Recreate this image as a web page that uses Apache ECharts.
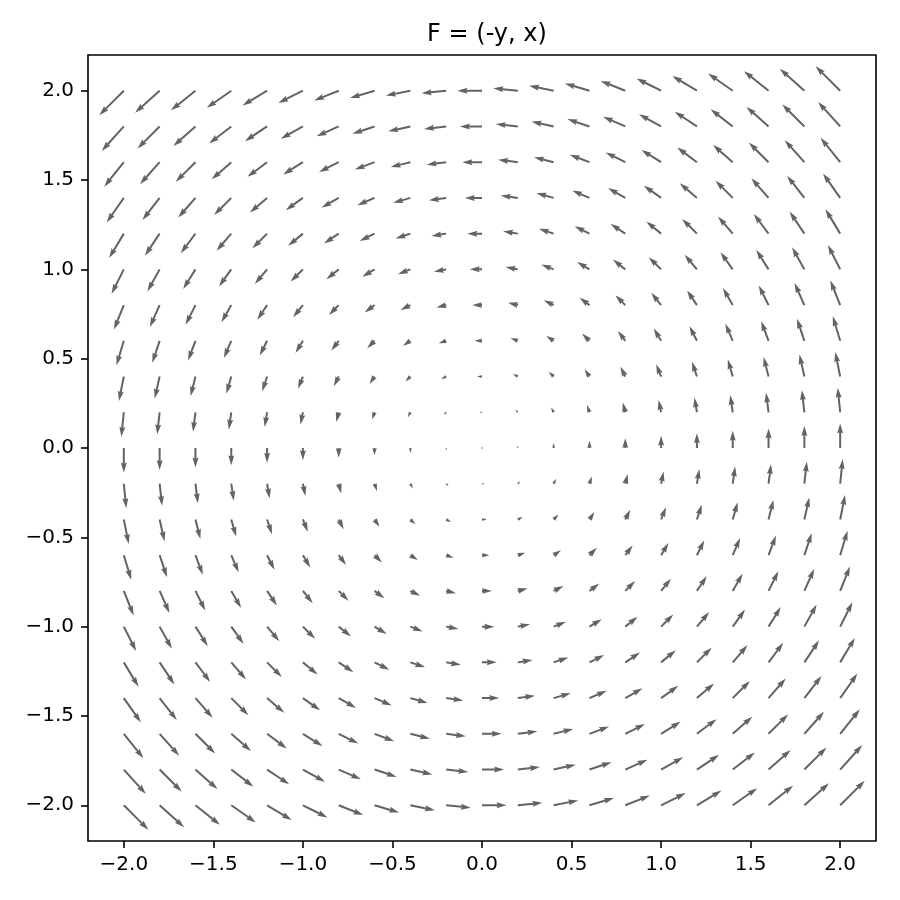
<!DOCTYPE html>
<html>
<head>
<meta charset="utf-8">
<script src="https://cdn.jsdelivr.net/npm/echarts@6/dist/echarts.min.js"></script>
<style>html,body{margin:0;padding:0;background:#fff}#c{width:900px;height:900px}</style>
</head>
<body>
<div id="c"></div>
<script>
var title = 'F = (-y, x)';
var xGrid = [-2.0,-1.8,-1.6,-1.4,-1.2,-1.0,-0.8,-0.6,-0.4,-0.2,0.0,0.2,0.4,0.6,0.8,1.0,1.2,1.4,1.6,1.8,2.0];
var yGrid = [-2.0,-1.8,-1.6,-1.4,-1.2,-1.0,-0.8,-0.6,-0.4,-0.2,0.0,0.2,0.4,0.6,0.8,1.0,1.2,1.4,1.6,1.8,2.0];
var tickVals = [-2.0,-1.5,-1.0,-0.5,0.0,0.5,1.0,1.5,2.0];

// field F = (-y, x) as given in the title
var data = [];
yGrid.forEach(function(y){
  xGrid.forEach(function(x){
    data.push([x, y, -y, x]);
  });
});

var K = 0.0685; // data units per unit of vector magnitude
function fmt(v){ var s = Math.abs(v).toFixed(1); return (v < 0 ? '\u2212' : '') + s; }

function renderItem(params, api){
  var x = api.value(0), y = api.value(1), u = api.value(2), v = api.value(3);
  var p0 = api.coord([x, y]);
  var p1 = api.coord([x + K*u, y + K*v]);
  var dx = p1[0]-p0[0], dy = p1[1]-p0[1];
  var L = Math.sqrt(dx*dx+dy*dy);
  var color = '#636363';
  var w = 2.0;
  if (L < w) {
    return {type:'circle', shape:{cx:p0[0], cy:p0[1], r:0.8}, style:{fill:color}};
  }
  var hl = 5*w, hal = 4.5*w, hw = 1.5*w, sw = w/2;
  var s = 1;
  if (L < hl) { s = L/hl; }
  hl*=s; hal*=s; hw*=s; sw*=s;
  var ux = dx/L, uy = dy/L, nx = -uy, ny = ux;
  function pt(a, b){ return [p0[0]+ux*a+nx*b, p0[1]+uy*a+ny*b]; }
  var pts = [pt(0,-sw), pt(L-hal,-sw), pt(L-hl,-hw), pt(L,0), pt(L-hl,hw), pt(L-hal,sw), pt(0,sw)];
  return {type:'polygon', shape:{points:pts}, style:{fill:color, stroke:null}};
}

var axisCommon = {
  type:'value', min:-2.2, max:2.2, splitLine:{show:false},
  axisLine:{show:false, onZero:false},
  axisTick:{show:true, inside:false, length:7, customValues:tickVals, lineStyle:{color:'#000', width:1.6}},
  axisLabel:{customValues:tickVals, formatter:fmt, margin:14, fontFamily:'DejaVu Sans', fontSize:20, color:'#000'}
};

var chart = echarts.init(document.getElementById('c'));
chart.setOption({
  animation:false,
  title:{text:title, left:482, top:18, textAlign:'center',
    textStyle:{fontFamily:'DejaVu Sans', fontSize:24, fontWeight:'normal', color:'#000'}},
  grid:{left:88, right:24, top:55, bottom:59, show:true, borderColor:'#000', borderWidth:1.6, backgroundColor:'#fff'},
  xAxis:echarts.util.merge({position:'bottom'}, axisCommon, true),
  yAxis:echarts.util.merge({position:'left'}, axisCommon, true),
  series:[{type:'custom', renderItem:renderItem, data:data, clip:false}]
});
</script>
</body>
</html>
